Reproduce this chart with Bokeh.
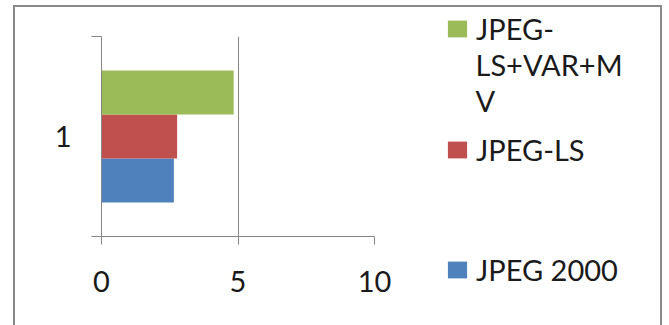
from bokeh.plotting import figure
from bokeh.layouts import row
from bokeh.models import Range1d, FixedTicker, Legend, LegendItem, Label
from bokeh.embed import file_html
from bokeh.resources import INLINE

# ---- data ----
series = ["JPEG 2000", "JPEG-LS", "JPEG-LS+VAR+MV"]
legend_labels = ["JPEG 2000", "JPEG-LS", "JPEG-"]
legend_wrap = ["LS+VAR+M", "V"]          # wrapped remainder of the third label
values = [2.65, 2.77, 4.84]
colors = ["#4F81BD", "#C0504D", "#9BBB59"]
category = 1
x_ticks = [0, 5, 10]

FONT = "Lato"
FS = "29px"
GRAY = "#868686"
TXT = "#1a1a1a"
H = 318

p = figure(width=385, height=H, x_range=Range1d(0, 10), y_range=Range1d(0.5, 1.5),
           output_backend="svg", toolbar_location=None,
           min_border_left=86, min_border_right=26, min_border_top=29, min_border_bottom=89)
p.frame_align = False
p.outline_line_color = None
p.background_fill_color = "white"
p.border_fill_color = "white"

bar_h = 0.22
renderers = []
for i, (name, v, c) in enumerate(zip(series, values, colors)):
    y = category + (i - 1) * bar_h
    r = p.hbar(y=[y], right=[v], left=0, height=bar_h, fill_color=c, line_color=None)
    renderers.append(r)

# x axis
p.xaxis.ticker = FixedTicker(ticks=x_ticks)
p.xaxis.axis_line_color = GRAY
p.xaxis.major_tick_line_color = GRAY
p.xaxis.major_tick_out = 8
p.xaxis.major_tick_in = 0
p.xaxis.minor_tick_line_color = None
p.xaxis.major_label_standoff = 26
p.xaxis.major_label_text_font = FONT
p.xaxis.major_label_text_font_size = FS
p.xaxis.major_label_text_color = TXT
p.xgrid.ticker = FixedTicker(ticks=x_ticks)
p.xgrid.grid_line_color = GRAY
p.ygrid.grid_line_color = None

# y axis
p.yaxis.ticker = FixedTicker(ticks=[category], minor_ticks=[0.5, 1.5])
p.yaxis.axis_line_color = GRAY
p.yaxis.major_tick_line_color = None
p.yaxis.major_tick_out = 0
p.yaxis.major_tick_in = 0
p.yaxis.minor_tick_line_color = GRAY
p.yaxis.minor_tick_out = 10
p.yaxis.minor_tick_in = 0
p.yaxis.major_label_standoff = 20
p.yaxis.major_label_text_font = FONT
p.yaxis.major_label_text_font_size = FS
p.yaxis.major_label_text_color = TXT

# ---- legend panel (its bars lie outside its visible range) ----
q = figure(width=260, height=H, x_range=Range1d(-300, -40), y_range=Range1d(0, H),
           output_backend="svg", toolbar_location=None,
           min_border_left=0, min_border_right=0, min_border_top=0, min_border_bottom=0)
q.frame_align = False
q.axis.visible = False
q.grid.visible = False
q.outline_line_color = None
q.background_fill_color = "white"
q.border_fill_color = "white"
leg_renderers = [q.hbar(y=[category], right=[v], left=0, height=1, fill_color=c, line_color=None)
                 for v, c in zip(values, colors)]

locs = [(45, 38), (45, 158), (45, 279)]
for i in [2, 1, 0]:
    leg = Legend(items=[LegendItem(label=legend_labels[i], renderers=[leg_renderers[i]])],
                 location=locs[i], padding=0, margin=0, border_line_color=None,
                 background_fill_alpha=0, glyph_width=24, glyph_height=21,
                 label_standoff=7, label_text_font=FONT, label_text_font_size=FS,
                 label_text_color=TXT, spacing=0)
    q.add_layout(leg)

for txt, yy in zip(legend_wrap, [261, 225]):
    q.add_layout(Label(x=-225, y=yy, text=txt, text_font=FONT, text_font_size=FS,
                       text_color=TXT, text_baseline="middle", text_align="left"))

layout = row(p, q)
layout.styles = {"border": "2px solid #8a8a8a", "border-bottom": "none",
                 "margin-left": "13px", "margin-top": "5px"}

open("out.html", "w").write(file_html(layout, INLINE))
